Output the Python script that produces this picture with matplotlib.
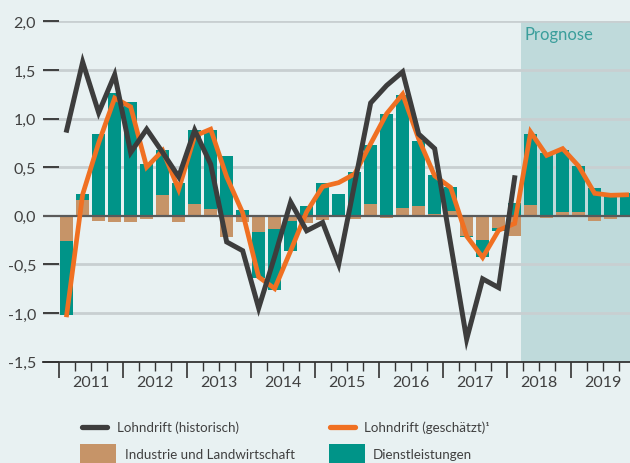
import matplotlib
matplotlib.use("Agg")
import matplotlib.pyplot as plt
from matplotlib.lines import Line2D
from matplotlib.patches import Rectangle
import numpy as np

# ---------------- data (quarters 2011Q1 .. 2019Q4) ----------------
years = ["2011", "2012", "2013", "2014", "2015", "2016", "2017", "2018", "2019"]

services = [-0.76, 0.06, 0.84, 1.26, 1.17, 0.53, 0.46, 0.34,
            0.765, 0.815, 0.61, 0.06, -0.48, -0.625, -0.31, 0.10,
            0.336, 0.22, 0.45, 0.61, 1.05, 1.165, 0.67, 0.40,
            0.245, -0.01, -0.17, -0.025, 0.13, 0.73, 0.65, 0.64,
            0.475, 0.285, 0.205, 0.23]
industry = [-0.26, 0.16, -0.05, -0.065, -0.065, -0.03, 0.215, -0.06,
            0.12, 0.07, -0.215, -0.06, -0.165, -0.137, -0.05, -0.07,
            -0.04, 0.0, -0.03, 0.12, -0.02, 0.075, 0.10, 0.02,
            0.05, -0.205, -0.25, -0.13, -0.21, 0.11, -0.02, 0.035,
            0.035, -0.055, -0.03, 0.0]
drift_est = [-1.02, 0.22, 0.75, 1.21, 1.12, 0.50, 0.67, 0.27,
             0.82, 0.89, 0.40, 0.03, -0.63, -0.75, -0.36, 0.04,
             0.30, 0.34, 0.43, 0.74, 1.05, 1.25, 0.79, 0.41,
             0.29, -0.21, -0.43, -0.15, -0.08, 0.86, 0.62, 0.69,
             0.51, 0.23, 0.21, 0.215]
drift_hist = [0.88, 1.58, 1.06, 1.45, 0.65, 0.89, 0.65, 0.40,
              0.88, 0.53, -0.27, -0.36, -0.95, -0.42, 0.14, -0.155,
              -0.07, -0.50, 0.33, 1.16, 1.34, 1.48, 0.84, 0.69,
              -0.29, -1.27, -0.65, -0.74, 0.39]
y_ticks = [2.0, 1.5, 1.0, 0.5, 0.0, -0.5, -1.0, -1.5]
y_labels = ["2,0", "1,5", "1,0", "0,5", "0,0", "-0,5", "-1,0", "-1,5"]
forecast_start = 28.4  # quarter index where forecast shading starts

# ---------------- style ----------------
BG = "#E8F1F2"
SHADE = "#BFDADB"
TEAL = "#009488"
BROWN = "#C69468"
ORANGE = "#F07022"
DARK = "#3D3D3D"
GRID = "#C8CFD1"
TXT = "#404040"
FONT = ["Lato", "DejaVu Sans"]
plt.rcParams["font.family"] = FONT

fig = plt.figure(figsize=(6.30, 4.64), dpi=100, facecolor=BG)
ax = fig.add_axes([43 / 630, 101.5 / 464, 587 / 630, 340.2 / 464])
ax.set_facecolor(BG)

n = len(services)
x = np.arange(n)
ind = np.array(industry)
srv = np.array(services)
teal_bottom = np.where(np.sign(srv) == np.sign(ind), ind, 0.0)

ax.axvspan(forecast_start, 40, color=SHADE, zorder=0, lw=0)
for yv in y_ticks:
    if yv not in (0.0, -1.5):
        ax.axhline(yv, color=GRID, lw=2, zorder=1)

ax.bar(x, ind, width=0.8, color=BROWN, zorder=2, lw=0)
ax.bar(x, srv, bottom=teal_bottom, width=0.8, color=TEAL, zorder=2, lw=0)
ax.axhline(0, color="#5a5a5a", lw=1.6, zorder=3)

ax.plot(x, drift_est, color=ORANGE, lw=3.4, zorder=4, solid_joinstyle="miter")
ax.plot(np.arange(len(drift_hist)), drift_hist, color=DARK, lw=3.6, zorder=5,
        solid_joinstyle="miter")

ax.set_xlim(-1.48, 35.21)
ax.set_ylim(-1.5, 2.0)

for s in ["top", "right", "left"]:
    ax.spines[s].set_visible(False)
ax.spines["bottom"].set_color("#333333")
ax.spines["bottom"].set_linewidth(1.3)

ax.set_yticks(y_ticks)
ax.set_yticklabels(y_labels)
ax.tick_params(axis="y", direction="in", length=11.5, width=1.3, color="#333333",
               pad=5, labelsize=11.5, labelcolor=TXT)

major = [-0.5 + 4 * k for k in range(len(years))]
minor = [q - 0.5 for q in range(n) if (q % 4) != 0]
ax.set_xticks(major)
ax.set_xticks(minor, minor=True)
ax.set_xticklabels([])
ax.tick_params(axis="x", which="major", direction="out", length=11.5, width=1.2,
               color="#333333")
ax.tick_params(axis="x", which="minor", direction="out", length=6.5, width=1.0,
               color="#333333")

for k, yr in enumerate(years):
    ax.annotate(yr, xy=(1.5 + 4 * k, -1.5), xytext=(0, -15), textcoords="offset points",
                ha="center", va="center", fontsize=11.5, color=TXT,
                annotation_clip=False)

ax.text(28.64, 1.87, "Prognose", color="#3A9E9B", fontsize=12, ha="left", va="center")

# ---------------- legend ----------------
def fx(px):
    return px / 630


def fy(py):
    return 1 - py / 464


LEG_FS = 9.6
fig.add_artist(Line2D([fx(82), fx(107)], [fy(428)] * 2, color=DARK, lw=3.8,
                      solid_capstyle="round"))
fig.text(fx(117), fy(428), "Lohndrift (historisch)", ha="left", va="center",
         fontsize=LEG_FS, color=TXT)
fig.add_artist(Line2D([fx(330), fx(355)], [fy(428)] * 2, color=ORANGE, lw=3.8,
                      solid_capstyle="round"))
fig.text(fx(364), fy(428), "Lohndrift (geschätzt)\u00b9", ha="left", va="center",
         fontsize=LEG_FS, color=TXT)
fig.add_artist(Rectangle((fx(80), 0), fx(116) - fx(80), fy(445), color=BROWN, lw=0))
fig.text(fx(125), fy(455), "Industrie und Landwirtschaft", ha="left", va="center",
         fontsize=LEG_FS, color=TXT)
fig.add_artist(Rectangle((fx(329), 0), fx(365) - fx(329), fy(445), color=TEAL, lw=0))
fig.text(fx(373), fy(455), "Dienstleistungen", ha="left", va="center",
         fontsize=LEG_FS, color=TXT)

fig.savefig("out.png", dpi=100, facecolor=BG)
